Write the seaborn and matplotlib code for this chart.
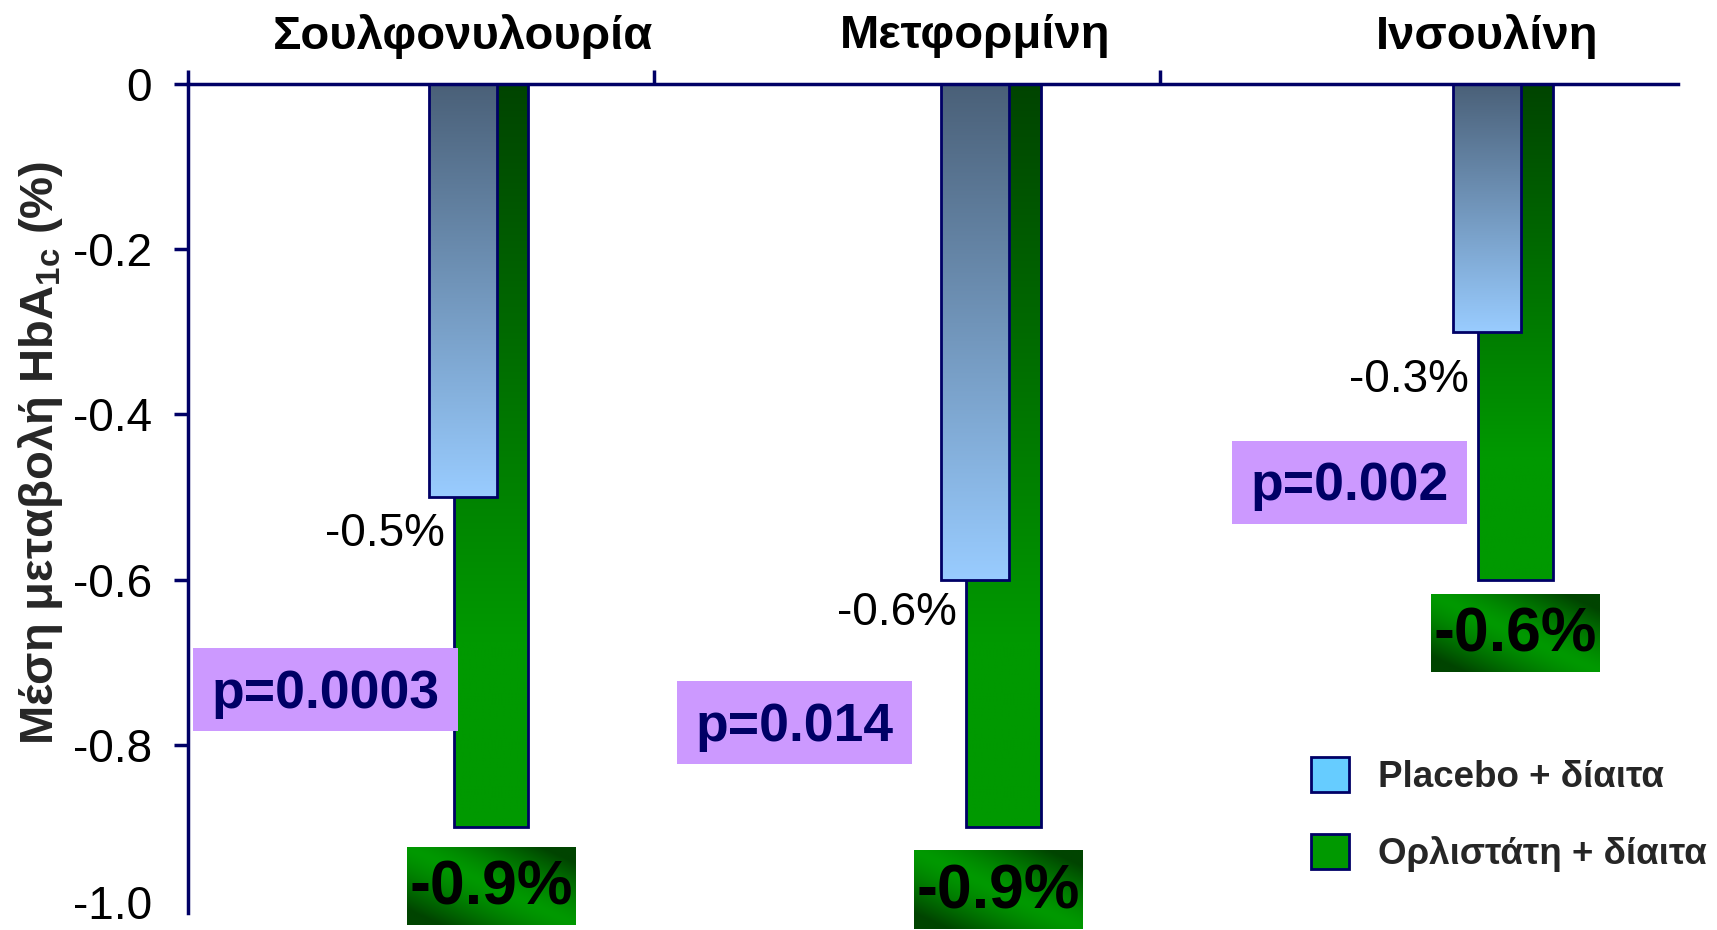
import numpy as np
import pandas as pd
import matplotlib
matplotlib.use("Agg")
import matplotlib.pyplot as plt
from matplotlib.patches import Rectangle, Patch
from matplotlib.colors import to_rgb
from matplotlib.transforms import ScaledTranslation
import seaborn as sns

# ---- data -------------------------------------------------------------
categories = ["Σουλφονυλουρία", "Μετφορμίνη", "Ινσουλίνη"]
placebo = [-0.5, -0.6, -0.3]
orlistat = [-0.9, -0.9, -0.6]
p_values = ["p=0.0003", "p=0.014", "p=0.002"]
series_names = ["Placebo + δίαιτα", "Ορλιστάτη + δίαιτα"]
ytick_values = [0, -0.2, -0.4, -0.6, -0.8, -1.0]
ytick_labels = ["0", "-0.2", "-0.4", "-0.6", "-0.8", "-1.0"]
ylabel = r"Μέση μεταβολή HbA$_{\mathbf{1c}}$ (%)"

# ---- style ------------------------------------------------------------
sns.set_style("white")
plt.rcParams["font.family"] = ["Liberation Sans", "DejaVu Sans"]
plt.rcParams["mathtext.fontset"] = "custom"
plt.rcParams["mathtext.rm"] = "Liberation Sans"
plt.rcParams["mathtext.bf"] = "Liberation Sans:bold"

NAVY = "#000066"
BLUE_TOP, BLUE_BOTTOM = "#4a6078", "#99ccff"
GREEN_TOP, GREEN_BOTTOM = "#004400", "#009900"
LEGEND_BLUE, LEGEND_GREEN = "#66ccff", "#009900"
LAVENDER = "#cc99ff"

W, H = 1717, 930
AX_TOP, AX_BOTTOM = 84, 913          # pixel rows of the zero line and axis end
PX_X = 1 / 512.0                     # data units per pixel along x
PX_Y = 1 / 826.0                     # data units per pixel along y

fig = plt.figure(figsize=(W / 100, H / 100), dpi=100)
ax = fig.add_axes([188 / W, 1 - AX_BOTTOM / H, 1490 / W,
                   (AX_BOTTOM - AX_TOP) / H])

pos = np.arange(len(categories), dtype=float)
blue_off, green_off = -0.031, 0.024
blue_w, green_w = 0.133, 0.146

# green (orlistat) bars sit behind the placebo bars
sns.barplot(data=pd.DataFrame({"x": pos + green_off, "y": orlistat}),
            x="x", y="y", native_scale=True, width=green_w,
            color=GREEN_BOTTOM, edgecolor=NAVY, linewidth=2,
            errorbar=None, ax=ax)
green_patches = list(ax.patches)
sns.barplot(data=pd.DataFrame({"x": pos + blue_off, "y": placebo}),
            x="x", y="y", native_scale=True, width=blue_w,
            color=BLUE_BOTTOM, edgecolor=NAVY, linewidth=2,
            errorbar=None, ax=ax)
blue_patches = [p for p in ax.patches if p not in green_patches]


def gradient_fill(patch, top, bottom, knee, z):
    """Vertical gradient clipped to a bar, darkest at the zero line."""
    x0, y0 = patch.get_x(), patch.get_y()
    w, h = patch.get_width(), patch.get_height()
    t = np.clip(np.linspace(0, 1, 256) / knee, 0, 1)[:, None, None]
    c0, c1 = np.array(to_rgb(top)), np.array(to_rgb(bottom))
    img = c0 + (c1 - c0) * t
    im = ax.imshow(img, extent=(x0, x0 + w, y0 + h, y0), origin="upper",
                   aspect="auto", interpolation="bilinear", zorder=z)
    im.set_clip_path(patch)
    patch.set_facecolor("none")
    patch.set_zorder(z + 0.5)


for p in green_patches:
    gradient_fill(p, GREEN_TOP, GREEN_BOTTOM, 0.75, 2)
for p in blue_patches:
    gradient_fill(p, BLUE_TOP, BLUE_BOTTOM, 1.0, 4)


def diagonal_box(cx, top, w, h, z):
    """Green label box, bright along the main diagonal, dark in two corners."""
    u = np.linspace(0, 1, 200)[None, :]
    v = np.linspace(0, 1, 100)[:, None]
    d = np.clip(np.abs(u - v) * 1.25, 0, 1) ** 1.4
    c0, c1 = np.array(to_rgb("#009900")), np.array(to_rgb("#004400"))
    img = c0 + (c1 - c0) * d[:, :, None]
    im = ax.imshow(img, extent=(cx - w / 2, cx + w / 2, top - h, top),
                   origin="upper", aspect="auto", interpolation="bilinear",
                   zorder=z)
    im.set_clip_on(False)


# orlistat value labels in green boxes under each bar
box_w, box_h = 168 * PX_X, 78 * PX_Y
box_gap = [20, 24, 14]
box_shift = [0, -5, 0]
for i, v in enumerate(orlistat):
    cx = pos[i] + green_off + box_shift[i] * PX_X
    top = v - box_gap[i] * PX_Y
    diagonal_box(cx, top, box_w, box_h, 7)
    ax.text(cx, top - box_h / 2 - 2 * PX_Y, f"{v:.1f}%", ha="center",
            va="center", fontsize=45, fontweight="bold", color="black",
            zorder=8, clip_on=False)

# placebo value labels beside each bar end
label_drop = [37, 33, 48]
for i, v in enumerate(placebo):
    x_right = pos[i] + green_off - green_w / 2 - 9 * PX_X
    ax.text(x_right, v - label_drop[i] * PX_Y, f"{v:.1f}%", ha="right",
            va="center", fontsize=33, color="black", zorder=8)

# p-value boxes: (left, top) in data units
p_box_xy = [(-0.559, -0.683), (0.387, -0.723), (1.471, -0.432)]
p_box_w = [265 * PX_X, 235 * PX_X, 235 * PX_X]
p_box_h = 83 * PX_Y
for (x0, y0), w, txt in zip(p_box_xy, p_box_w, p_values):
    ax.add_patch(Rectangle((x0, y0 - p_box_h), w, p_box_h,
                           facecolor=LAVENDER, edgecolor="none", zorder=6))
    ax.text(x0 + w / 2, y0 - p_box_h / 2 - 4 * PX_Y, txt, ha="center",
            va="center", fontsize=38.5, fontweight="bold", color=NAVY,
            zorder=7)

# category headers above the zero line
for i, name in enumerate(categories):
    ax.text(pos[i] + blue_off, 0.058, name, ha="center", va="center",
            fontsize=34, fontweight="bold", color="black", clip_on=False)

# ---- axes -------------------------------------------------------------
ax.set_xlim(-0.568, 2.342)
ax.set_ylim(-(AX_BOTTOM - AX_TOP) * PX_Y, 0.0)

ax.set_yticks(ytick_values, ytick_labels)
ax.tick_params(axis="y", left=True, direction="out", length=10, width=2.5,
               color=NAVY, pad=16, labelsize=33, labelcolor="black")
# the axis simply ends at -1.0: no tick mark there, label sits a bit higher
last_tick = ax.yaxis.get_major_ticks()[-1]
last_tick.tick1line.set_visible(False)
last_tick.label1.set_transform(
    last_tick.label1.get_transform()
    + ScaledTranslation(0, 8 / 100, fig.dpi_scale_trans))

ax.xaxis.set_ticks_position("top")
ax.set_xticks([-0.5679, 0.342, 1.330])
ax.tick_params(axis="x", top=True, bottom=False, direction="out",
               length=10, width=2.5, color=NAVY,
               labeltop=False, labelbottom=False)
ax.set_xlabel("")

for side in ("right", "bottom"):
    ax.spines[side].set_visible(False)
for side in ("top", "left"):
    ax.spines[side].set_color(NAVY)
    ax.spines[side].set_linewidth(2.5)
    ax.spines[side].set_zorder(10)

ax.set_ylabel(ylabel, fontsize=34, fontweight="bold", ha="center",
              va="center")
ax.yaxis.set_label_coords(-0.0993, 0.555)

handles = [Patch(facecolor=LEGEND_BLUE, edgecolor=NAVY, linewidth=2),
           Patch(facecolor=LEGEND_GREEN, edgecolor=NAVY, linewidth=2)]
ax.legend(handles, series_names, loc="upper left",
          bbox_to_anchor=(0.7537, 0.188), frameon=False,
          prop=dict(weight="bold", size=26.5), handlelength=1.03,
          handleheight=1.09, handletextpad=0.79, labelspacing=1.06,
          borderpad=0, borderaxespad=0)

fig.savefig("out.png", dpi=100)
